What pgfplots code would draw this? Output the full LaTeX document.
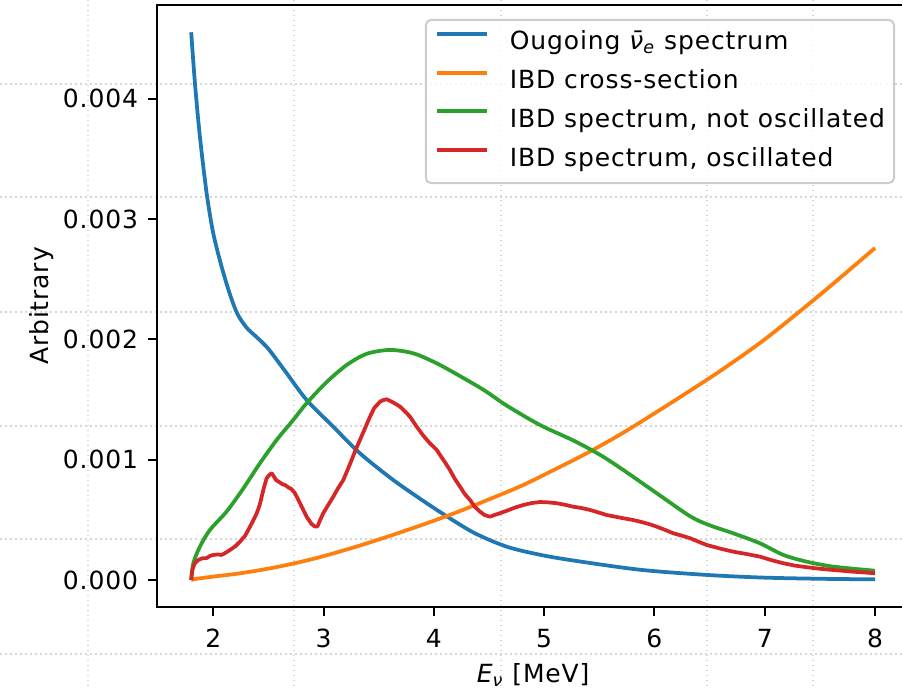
\documentclass[border=0pt]{standalone}
\usepackage{fontspec}
\setmainfont{DejaVu Sans}[LetterSpace=3.5]
\usepackage{pgfplots}
\pgfplotsset{compat=1.18}
\definecolor{mplblue}{HTML}{1F77B4}
\definecolor{mplorange}{HTML}{FF7F0E}
\definecolor{mplgreen}{HTML}{2CA02C}
\definecolor{mplred}{HTML}{D62728}
\definecolor{legendgray}{HTML}{CCCCCC}
\definecolor{bggrid}{HTML}{D6D6D6}
\begin{document}
\fontsize{10}{12}\selectfont
\begin{tikzpicture}
\useasboundingbox (0,0) rectangle (360.8pt,275.6pt);
\clip (0,0) rectangle (360.8pt,275.6pt);
% faint page background grid
\begin{scope}[x=0.4pt,y=-0.4pt,shift={(0pt,275.6pt)}]
\foreach \gx in {88,294,501,707,813}{\draw[bggrid,line width=0.5pt,dash pattern=on 0.6pt off 1.4pt] (\gx,0) -- (\gx,689);}
\foreach \gy in {84,197,312,426,539,654}{\draw[bggrid,line width=0.5pt,dash pattern=on 0.6pt off 1.4pt] (0,\gy) -- (902,\gy);}
\end{scope}
\begin{axis}[
  at={(62.8pt,32.64pt)}, anchor=south west,
  scale only axis, width=300.88pt, height=241.12pt,
  xmin=1.49, xmax=8.31, ymin=-0.000228, ymax=0.004783,
  xtick={2,3,4,5,6,7,8}, xticklabels={2,3,4,5,6,7,8},
  ytick={0,0.001,0.002,0.003,0.004},
  yticklabels={0.000,0.001,0.002,0.003,0.004},
  scaled y ticks=false,
  tick align=outside, tick pos=left,
  major tick length=3.5pt,
  tick style={black, line width=0.8pt},
  axis line style={black, line width=0.8pt},
  every tick label/.append style={font=\fontsize{10}{12}\selectfont, inner sep=0pt},
  xticklabel style={anchor=north, yshift=-4.9pt},
  yticklabel style={anchor=east, xshift=-3.9pt},
  xlabel={{\itshape E}\textsubscript{\itshape ν} [MeV]},
  ylabel={Arbitrary},
  xlabel style={at={(axis description cs:0.5,-0.1243)}, anchor=base, inner sep=0pt, font=\fontsize{10}{12}\selectfont},
  ylabel style={at={(axis description cs:-0.1449,0.5)}, anchor=base, inner sep=0pt, font=\fontsize{10}{12}\selectfont},
  legend cell align=left,
  legend image code/.code={\draw[#1, line width=1.5pt] (0pt,3.8pt) -- (20pt,3.8pt);},
  legend style={
    at={(0.9811,0.9761)}, anchor=north east,
    draw=legendgray, line width=0.8pt, rounded corners=2pt,
    fill=white, fill opacity=0.8, text opacity=1,
    inner xsep=3.6pt, inner ysep=4.4pt,
    nodes={inner sep=0pt, text height=7.6pt, text depth=2.4pt},
    row sep=5.47pt,
    /tikz/every odd column/.append style={column sep=8.5pt},
    font=\fontsize{10}{12}\selectfont,
  },
]
\addplot[mplblue, line width=1.5pt, smooth] coordinates {
(1.80,4.553e-3)(1.834,4.129e-3)(1.879,3.685e-3)(1.94,3.215e-3)(2.0,2.882e-3)(2.076,2.604e-3)(2.151,2.375e-3)(2.22,2.21e-3)(2.30,2.10e-3)(2.38,2.03e-3)(2.45,1.97e-3)(2.514,1.905e-3)(2.666,1.718e-3)(2.847,1.496e-3)(3.088,1.274e-3)(3.33,1.053e-3)(3.632,0.831e-3)(3.935,0.638e-3)(4.056,0.565e-3)(4.358,0.395e-3)(4.66,0.277e-3)(4.96,0.21e-3)(5.264,0.162e-3)(5.869,0.085e-3)(6.474,0.042e-3)(6.98,0.02e-3)(7.5,0.01e-3)(8.0,0.005e-3)};
\addlegendentry{Ougoing {\itshape ν̄}\textsubscript{\itshape e} spectrum}
\addplot[mplorange, line width=1.5pt, smooth] coordinates {
(1.80,0)(1.85,0.01e-3)(2.0,0.028e-3)(2.2,0.05e-3)(2.4,0.078e-3)(2.6,0.112e-3)(2.8,0.152e-3)(3.0,0.198e-3)(3.3,0.278e-3)(3.6,0.366e-3)(3.9,0.46e-3)(4.2,0.56e-3)(4.5,0.67e-3)(4.8,0.785e-3)(5.1,0.92e-3)(5.4,1.06e-3)(5.7,1.215e-3)(6.0,1.385e-3)(6.3,1.56e-3)(6.6,1.74e-3)(7.0,2.0e-3)(7.5,2.37e-3)(8.0,2.76e-3)};
\addlegendentry{IBD cross-section}
\addplot[mplgreen, line width=1.5pt, smooth] coordinates {
(1.80,0)(1.819,0.139e-3)(1.879,0.277e-3)(1.97,0.416e-3)(2.122,0.57e-3)(2.272,0.76e-3)(2.423,0.97e-3)(2.575,1.164e-3)(2.725,1.33e-3)(2.847,1.47e-3)(3.028,1.645e-3)(3.21,1.787e-3)(3.391,1.88e-3)(3.602,1.912e-3)(3.814,1.884e-3)(4.026,1.801e-3)(4.237,1.695e-3)(4.46,1.575e-3)(4.66,1.45e-3)(4.963,1.288e-3)(5.264,1.16e-3)(5.507,1.04e-3)(5.718,0.914e-3)(6.021,0.721e-3)(6.323,0.53e-3)(6.50,0.455e-3)(6.715,0.388e-3)(6.957,0.305e-3)(7.169,0.208e-3)(7.381,0.152e-3)(7.622,0.111e-3)(8.0,0.077e-3)};
\addlegendentry{IBD spectrum, not oscillated}
\addplot[mplred, line width=1.5pt, line join=round] coordinates {
(1.80,0)(1.81,0.08e-3)(1.83,0.135e-3)(1.864,0.166e-3)(1.90,0.18e-3)(1.94,0.182e-3)(1.97,0.20e-3)(2.0,0.208e-3)(2.04,0.212e-3)(2.076,0.208e-3)(2.11,0.225e-3)(2.151,0.249e-3)(2.20,0.28e-3)(2.242,0.318e-3)(2.29,0.37e-3)(2.333,0.443e-3)(2.36,0.49e-3)(2.394,0.554e-3)(2.42,0.62e-3)(2.439,0.692e-3)(2.46,0.77e-3)(2.484,0.845e-3)(2.51,0.875e-3)(2.53,0.887e-3)(2.55,0.86e-3)(2.57,0.83e-3)(2.605,0.81e-3)(2.63,0.795e-3)(2.65,0.79e-3)(2.68,0.77e-3)(2.71,0.755e-3)(2.741,0.721e-3)(2.78,0.65e-3)(2.816,0.582e-3)(2.85,0.52e-3)(2.892,0.465e-3)(2.92,0.445e-3)(2.945,0.445e-3)(2.97,0.5e-3)(2.997,0.554e-3)(3.04,0.62e-3)(3.088,0.692e-3)(3.13,0.76e-3)(3.179,0.831e-3)(3.22,0.92e-3)(3.255,0.998e-3)(3.29,1.08e-3)(3.33,1.164e-3)(3.38,1.27e-3)(3.421,1.357e-3)(3.46,1.43e-3)(3.512,1.482e-3)(3.54,1.495e-3)(3.572,1.502e-3)(3.60,1.49e-3)(3.632,1.475e-3)(3.66,1.46e-3)(3.693,1.441e-3)(3.74,1.40e-3)(3.784,1.357e-3)(3.84,1.28e-3)(3.904,1.20e-3)(3.96,1.14e-3)(4.026,1.081e-3)(4.07,1.02e-3)(4.1,0.98e-3)(4.146,0.914e-3)(4.19,0.84e-3)(4.237,0.776e-3)(4.28,0.715e-3)(4.328,0.665e-3)(4.37,0.61e-3)(4.418,0.568e-3)(4.46,0.54e-3)(4.509,0.526e-3)(4.55,0.54e-3)(4.60,0.555e-3)(4.66,0.575e-3)(4.73,0.6e-3)(4.811,0.623e-3)(4.89,0.64e-3)(4.963,0.648e-3)(5.04,0.645e-3)(5.114,0.638e-3)(5.19,0.625e-3)(5.264,0.609e-3)(5.34,0.598e-3)(5.416,0.582e-3)(5.49,0.562e-3)(5.567,0.54e-3)(5.64,0.527e-3)(5.718,0.513e-3)(5.80,0.5e-3)(5.869,0.485e-3)(5.95,0.465e-3)(6.021,0.443e-3)(6.10,0.415e-3)(6.171,0.388e-3)(6.25,0.368e-3)(6.323,0.347e-3)(6.40,0.318e-3)(6.474,0.291e-3)(6.60,0.26e-3)(6.715,0.235e-3)(6.84,0.215e-3)(6.957,0.194e-3)(7.06,0.165e-3)(7.169,0.139e-3)(7.27,0.12e-3)(7.381,0.106e-3)(7.50,0.093e-3)(7.622,0.083e-3)(7.80,0.069e-3)(8.0,0.056e-3)};
\addlegendentry{IBD spectrum, oscillated}
\end{axis}
\end{tikzpicture}
\end{document}
